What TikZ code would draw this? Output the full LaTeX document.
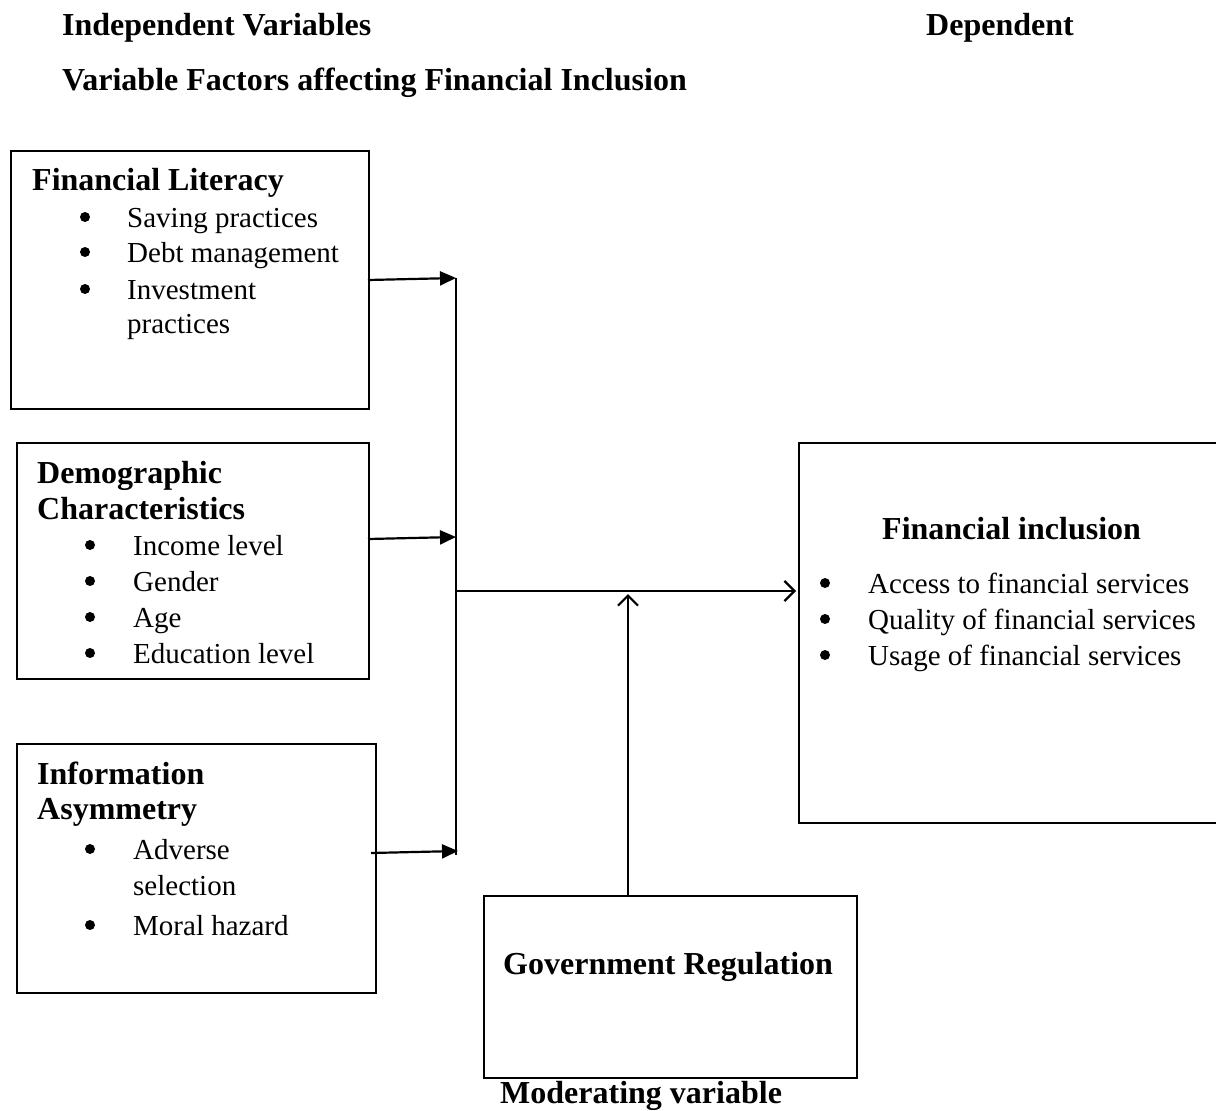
\documentclass[tikz,border=0pt]{standalone}
\usepackage{fontspec}
\setmainfont{Liberation Serif}
\usetikzlibrary{arrows.meta}
\begin{document}
\begin{tikzpicture}[x=1pt,y=-1pt,
  box/.style={draw,line width=2pt,rectangle,anchor=north west,inner sep=0pt},
  txt/.style={anchor=base west,inner sep=0pt,font=\fontsize{29}{36}\selectfont},
  hd/.style={txt,font=\fontsize{32}{38}\selectfont\bfseries},
  bul/.style={circle,fill,inner sep=0pt,minimum size=10pt},
  conn/.style={line width=2.2pt},
  solidarr/.style={conn,-{Triangle[length=16pt,width=14pt]}},
  openarr/.style={conn,-{Straight Barb[length=10pt,width=20pt,line width=2.2pt]}}
]
\useasboundingbox (0,0) rectangle (1216,1111);
% titles
\node[hd] (t1) at (62,35) {Independent Variables};
\node[hd] (t2) at (926,35) {Dependent};
\node[hd] (t3) at (62,90) {Variable Factors affecting Financial Inclusion};
% boxes
\node[box,minimum width=358pt,minimum height=258pt] (b1) at (10,150) {};
\node[box,minimum width=352pt,minimum height=236pt] (b2) at (16,442) {};
\node[box,minimum width=359pt,minimum height=249pt] (b3) at (16,743) {};
\node[box,minimum width=420pt,minimum height=380pt] (fi) at (798,442) {};
\node[box,minimum width=373pt,minimum height=182pt] (gr) at (483,895) {};
% box 1 text
\node[hd] (b1h) at (32,190) {Financial Literacy};
\node[bul] (b1d1) at (85,217) {}; \node[txt] (b1i1) at (127,227) {Saving practices};
\node[bul] (b1d2) at (85,252) {}; \node[txt] (b1i2) at (127,262) {Debt management};
\node[bul] (b1d3) at (85,289) {}; \node[txt] (b1i3) at (127,299) {Investment};
\node[txt] (b1i3b) at (127,333) {practices};
% box 2 text
\node[hd] (b2h1) at (37,483) {Demographic};
\node[hd] (b2h2) at (37,519) {Characteristics};
\node[bul] (b2d1) at (90,545) {}; \node[txt] (b2i1) at (133,555) {Income level};
\node[bul] (b2d2) at (90,581) {}; \node[txt] (b2i2) at (133,591) {Gender};
\node[bul] (b2d3) at (90,617) {}; \node[txt] (b2i3) at (133,627) {Age};
\node[bul] (b2d4) at (90,653) {}; \node[txt] (b2i4) at (133,663) {Education level};
% box 3 text
\node[hd] (b3h1) at (37,784) {Information};
\node[hd] (b3h2) at (37,819) {Asymmetry};
\node[bul] (b3d1) at (90,849) {}; \node[txt] (b3i1) at (133,859) {Adverse};
\node[txt] (b3i1b) at (133,895) {selection};
\node[bul] (b3d2) at (90,925) {}; \node[txt] (b3i2) at (133,935) {Moral hazard};
% FI text
\node[hd] (fih) at (882,539) {Financial inclusion};
\node[bul] (fid1) at (825,583) {}; \node[txt] (fii1) at (868,593) {Access to financial services};
\node[bul] (fid2) at (825,619) {}; \node[txt] (fii2) at (868,629) {Quality of financial services};
\node[bul] (fid3) at (825,655) {}; \node[txt] (fii3) at (868,665) {Usage of financial services};
% GR text
\node[hd] (grh) at (503,974) {Government Regulation};
\node[hd] (mv) at (500,1103) {Moderating variable};
% connectors
\coordinate (s1) at (368,280); \coordinate (e1) at (456,278);
\coordinate (s2) at (368,539); \coordinate (e2) at (456,537);
\coordinate (s3) at (371,853); \coordinate (e3) at (458,851);
\coordinate (bt) at (456,278); \coordinate (bb) at (456,855);
\coordinate (ms) at (456,591); \coordinate (me) at (796,591);
\coordinate (gs) at (628,895); \coordinate (ge) at (628,594);
\draw[line width=1.6pt] (bt) -- (bb);
\draw[solidarr] (s1) -- (e1);
\draw[solidarr] (s2) -- (e2);
\draw[solidarr] (s3) -- (e3);
\draw[openarr] (ms) -- (me);
\draw[openarr] (gs) -- (ge);
\end{tikzpicture}
\end{document}
